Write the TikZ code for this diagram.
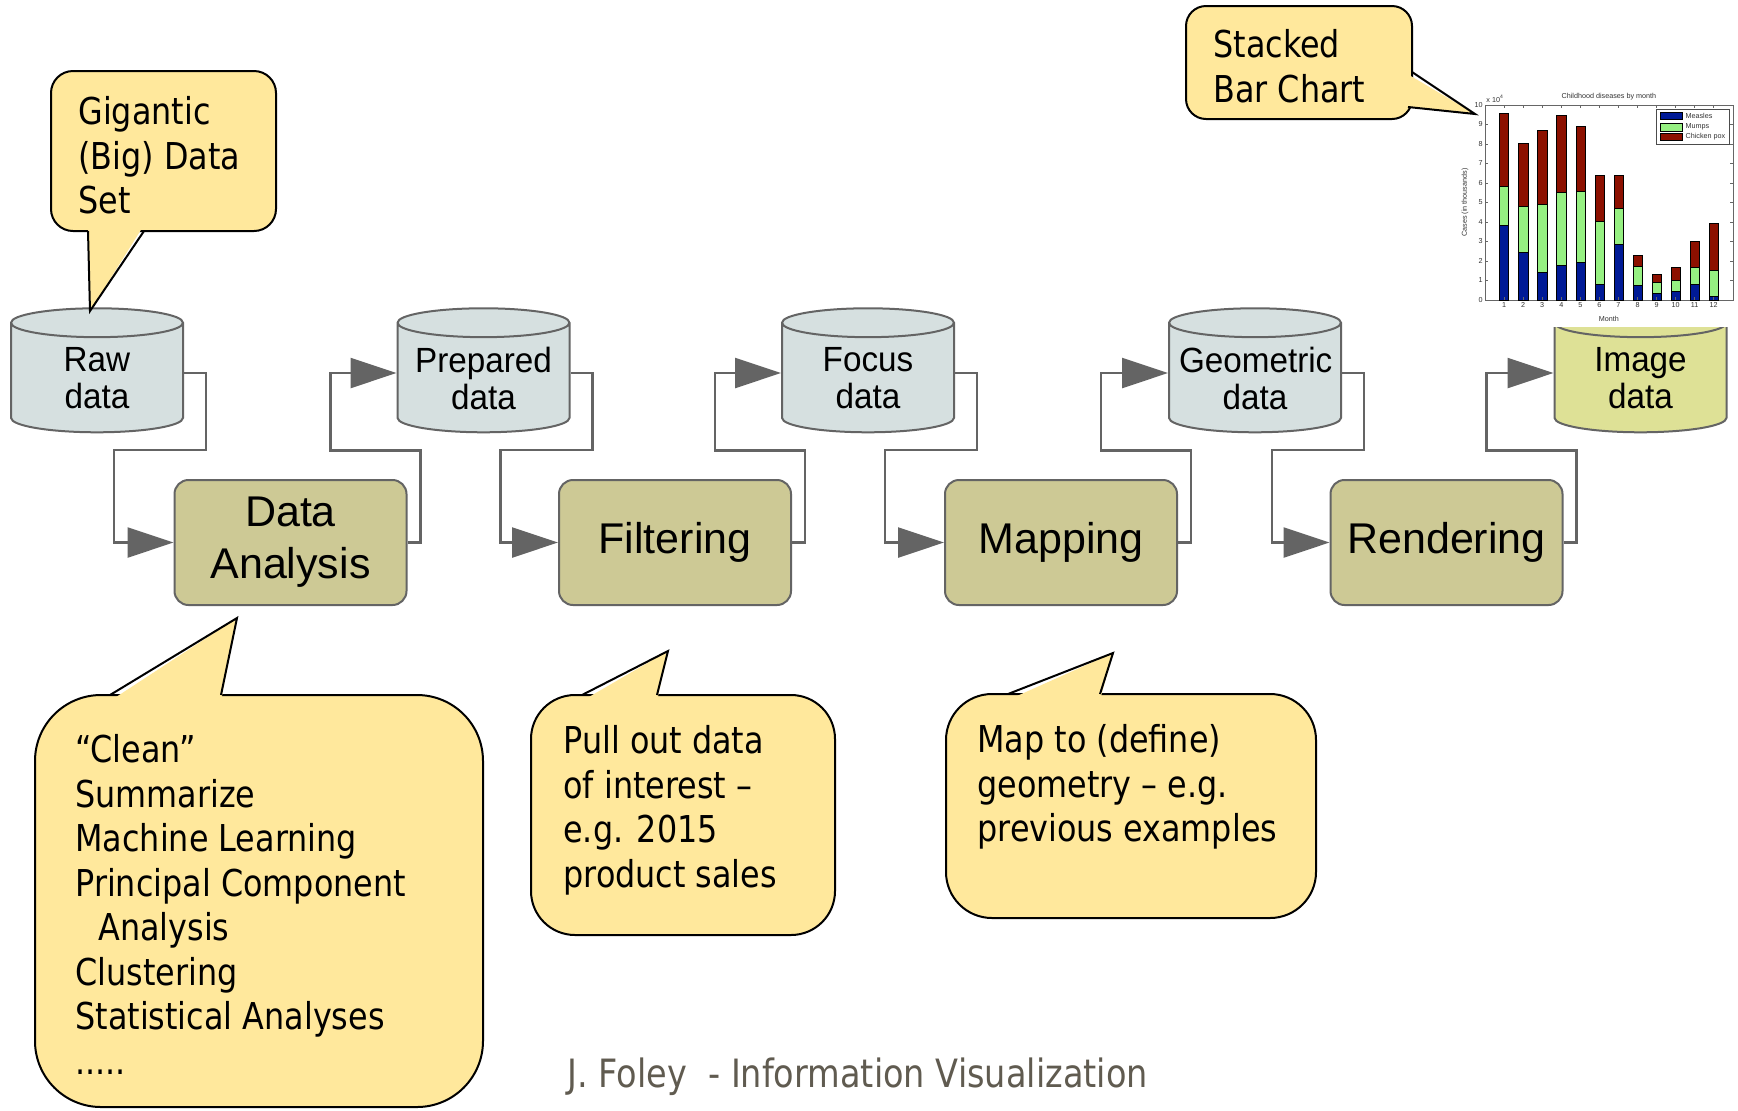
\documentclass[tikz,border=0pt]{standalone}
\usepackage{fontspec}
\setmainfont{Liberation Sans}
\newfontfamily\drumfont[FakeStretch=0.95]{Liberation Sans}
\newfontfamily\callfont[FakeStretch=0.86]{DejaVu Sans}
\usetikzlibrary{positioning, shapes.geometric, arrows.meta}

\definecolor{bubblefill}{HTML}{FFE89C}
\definecolor{drumfill}{HTML}{D6E0E0}
\definecolor{imagefill}{HTML}{DEE196}
\definecolor{stagefill}{HTML}{CDC995}
\definecolor{wirecol}{HTML}{646464}
\definecolor{footcol}{HTML}{605B50}
\definecolor{measles}{HTML}{001A96}
\definecolor{mumps}{HTML}{96F082}
\definecolor{chickenpox}{HTML}{8C1000}

\tikzset{
  drum/.style={cylinder, shape border rotate=90, aspect=0.19, draw=wirecol, line width=1pt,
    fill=drumfill, minimum width=86pt, minimum height=62pt, text width=76pt, align=center,
    inner sep=0pt, font=\drumfont\fontsize{17.5}{18.5}\selectfont},
  stage/.style={draw=wirecol, line width=1pt, fill=stagefill, rounded corners=7pt,
    minimum width=116pt, minimum height=62.5pt, align=center, font=\fontsize{21.5}{26}\selectfont},
  bubble/.style={draw=black, line width=1pt, fill=bubblefill},
  bubbletext/.style={anchor=north west, inner sep=0pt, align=left,
    font=\callfont\fontsize{18.5}{22.25}\selectfont},
  flow/.style={draw=wirecol, line width=1.2pt, -{Triangle[length=23pt, width=15pt]}},
  chartlabel/.style={inner sep=0.5pt, font=\fontsize{3.6}{4}\selectfont, text=black!80},
}

\begin{document}
\begin{tikzpicture}[x=0.5pt, y=-0.5pt]
\path[use as bounding box, fill=white] (0,0) rectangle (1738,1110);

% Data stores
\node[drum] (raw) at (97,378) {Raw\\data};
\node[drum] (prepared) at (483.5,378) {Prepared\\data};
\node[drum] (focus) at (868,378) {Focus\\data};
\node[drum] (geometric) at (1255,378) {Geometric\\data};
\node[drum, fill=imagefill] (image) at (1640.5,378) {Image\\data};

% Stages
\node[stage] (analysis) at (290.5,542.5) {Data\\Analysis};
\node[stage] (filtering) at (675,542.5) {Filtering};
\node[stage] (mapping) at (1061,542.5) {Mapping};
\node[stage] (rendering) at (1446.5,542.5) {Rendering};

% Pipeline
\draw[flow] ([yshift=2.5pt]raw.east) -- ++(22,0) -- ++(0,77) -- ++(-92,0) |- (analysis.west);
\draw[flow] (analysis.east) -- ++(13,0) -- ++(0,-92) -- ++(-90,0) |- ([yshift=2.5pt]prepared.west);
\draw[flow] ([yshift=2.5pt]prepared.east) -- ++(22,0) -- ++(0,77) -- ++(-92,0) |- (filtering.west);
\draw[flow] (filtering.east) -- ++(13,0) -- ++(0,-92) -- ++(-90,0) |- ([yshift=2.5pt]focus.west);
\draw[flow] ([yshift=2.5pt]focus.east) -- ++(22,0) -- ++(0,77) -- ++(-92,0) |- (mapping.west);
\draw[flow] (mapping.east) -- ++(13,0) -- ++(0,-92) -- ++(-90,0) |- ([yshift=2.5pt]geometric.west);
\draw[flow] ([yshift=2.5pt]geometric.east) -- ++(22,0) -- ++(0,77) -- ++(-92,0) |- (rendering.west);
\draw[flow] (rendering.east) -- ++(13,0) -- ++(0,-92) -- ++(-90,0) |- ([yshift=2.5pt]image.west);

% Stacked bar chart
\fill[white] (1458,84) rectangle (1738,327);
\begin{scope}[shift={(742.5pt,-150pt)}, x=9.53pt, y=9.75pt]
  \draw[line width=0.3pt, black!60] (0,0) rectangle (13,10);
  \foreach \k in {0,...,10} {
    \draw[line width=0.25pt, black!60] (0,\k) -- (0.15,\k) (13,\k) -- (12.85,\k);
    \node[chartlabel, anchor=east] (ytick\k) at (-0.05,\k) {\k};
  }
  \foreach \m/\a/\b/\c in {1/3.85/5.85/9.6, 2/2.45/4.8/8.05, 3/1.45/4.9/8.7, 4/1.8/5.55/9.5,
      5/1.95/5.58/8.9, 6/0.8/4.05/6.38, 7/2.85/4.72/6.42, 8/0.78/1.75/2.28,
      9/0.33/0.92/1.3, 10/0.43/1.02/1.67, 11/0.8/1.68/3.0, 12/0.2/1.55/3.93} {
    \filldraw[fill=measles, draw=black, line width=0.2pt] (\m-0.24,0) rectangle (\m+0.24,\a);
    \filldraw[fill=mumps, draw=black, line width=0.2pt] (\m-0.24,\a) rectangle (\m+0.24,\b);
    \filldraw[fill=chickenpox, draw=black, line width=0.2pt] (\m-0.24,\b) rectangle (\m+0.24,\c);
    \draw[line width=0.25pt, black!60] (\m,0) -- (\m,0.15) (\m,10) -- (\m,9.85);
    \node[chartlabel, anchor=north] (xtick\m) at (\m,-0.08) {\m};
  }
  \node[chartlabel] (charttitle) at (6.5,10.45) {Childhood diseases by month};
  \node[chartlabel, anchor=south west] (chartscale) at (0,10.05) {x 10\textsuperscript{4}};
  \node[chartlabel, rotate=90] (chartylabel) at (-1.05,5) {Cases (in thousands)};
  \node[chartlabel] (chartxlabel) at (6.5,-0.95) {Month};
  % legend
  \filldraw[fill=white, draw=black!70, line width=0.3pt] (8.96,8.0) rectangle (12.8,9.79);
  \filldraw[fill=measles, draw=black, line width=0.2pt] (9.17,9.25) rectangle (10.37,9.63);
  \filldraw[fill=mumps, draw=black, line width=0.2pt] (9.17,8.68) rectangle (10.37,9.06);
  \filldraw[fill=chickenpox, draw=black, line width=0.2pt] (9.17,8.17) rectangle (10.37,8.55);
  \node[chartlabel, anchor=west] (lgmeasles) at (10.45,9.44) {Measles};
  \node[chartlabel, anchor=west] (lgmumps) at (10.45,8.87) {Mumps};
  \node[chartlabel, anchor=west] (lgpox) at (10.45,8.36) {Chicken pox};
\end{scope}

% Callouts
\draw[bubble, rounded corners=11pt] (51,71) rectangle (276,231);
\fill[bubblefill] (88,225) -- (90,311) -- (144,225) -- cycle;
\draw[line width=1pt] (88,231) -- (90,311) -- (144,231);
\node[bubbletext] (bigdata) at (78,96) {Gigantic\\(Big) Data\\Set};

\draw[bubble, rounded corners=10pt] (1186,6) rectangle (1412,119);
\fill[bubblefill] (1404,72) -- (1475,114) -- (1404,106) -- cycle;
\draw[line width=1pt] (1412,72) -- (1475,114) -- (1408,107);
\node[bubbletext] (barchart) at (1213,29) {Stacked\\Bar Chart};

\draw[bubble, rounded corners=33pt] (35,695) rectangle (483,1107);
\fill[bubblefill] (110,701) -- (237,618) -- (221,701) -- cycle;
\draw[line width=1pt] (110,695) -- (237,618) -- (221,695);
\node[bubbletext] (analysisnote) at (75,734)
  {“Clean”\\Summarize\\Machine Learning\\Principal Component\\\hspace*{11.5pt}Analysis\\Clustering\\Statistical Analyses\\.....};

\draw[bubble, rounded corners=22pt] (531,695) rectangle (835,935);
\fill[bubblefill] (582,701) -- (668,651) -- (657,701) -- cycle;
\draw[line width=1pt] (582,695) -- (668,651) -- (657,695);
\node[bubbletext] (filternote) at (563,725) {Pull out data\\of interest –\\e.g. 2015\\product sales};

\draw[bubble, rounded corners=23pt] (946,694) rectangle (1316,918);
\fill[bubblefill] (1008,700) -- (1113,653) -- (1100,700) -- cycle;
\draw[line width=1pt] (1008,694) -- (1113,653) -- (1100,694);
\node[bubbletext] (mapnote) at (977,724) {Map to (define)\\geometry – e.g.\\previous examples};

\node[anchor=base, text=footcol, font=\callfont\fontsize{19.5}{22}\selectfont] (footer) at (857.5,1087)
  {J. Foley\ \ - Information Visualization};
\end{tikzpicture}
\end{document}
